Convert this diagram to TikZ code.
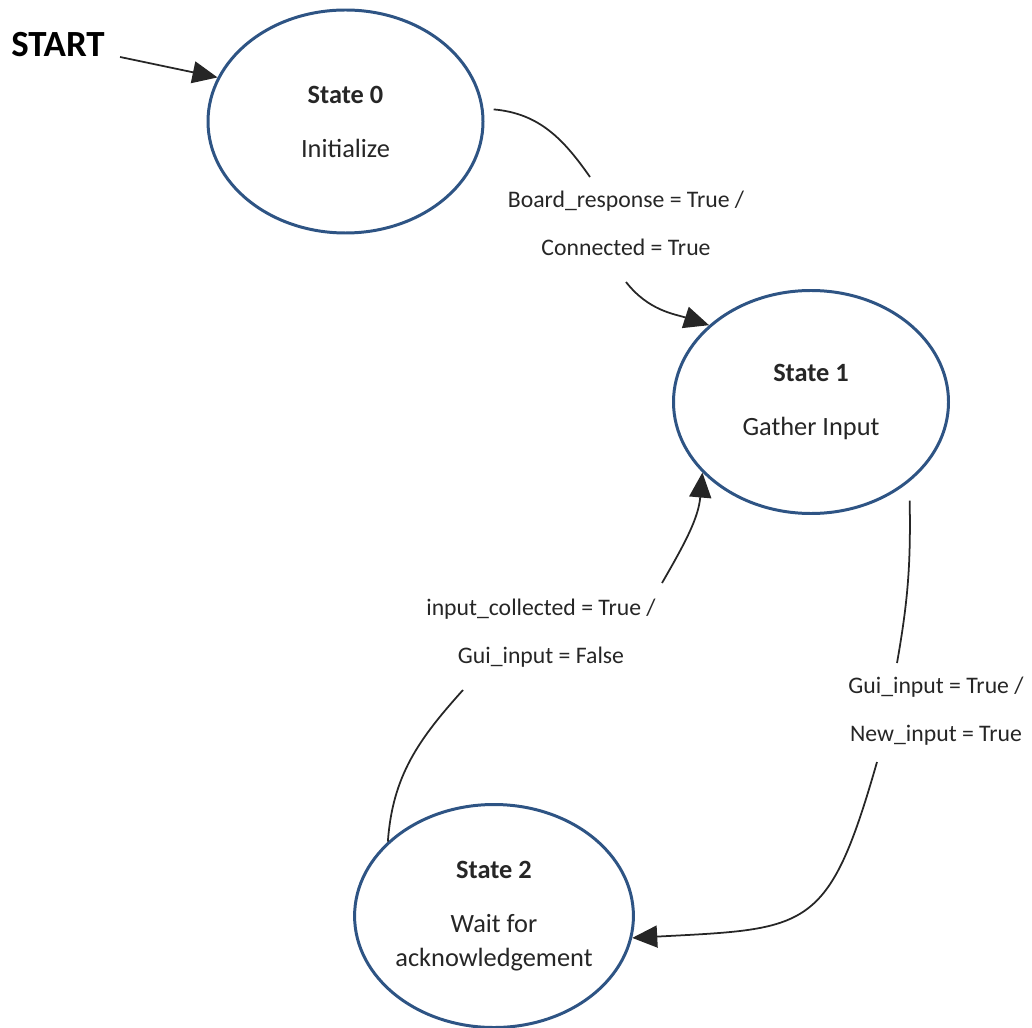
\documentclass[tikz,border=0pt]{standalone}
\usepackage{fontspec}
\setmainfont{Carlito}
\usepackage{xcolor}
\usepackage{tikz}
\usetikzlibrary{shapes.geometric, arrows.meta, calc}

\definecolor{stateblue}{RGB}{46,84,132}
\definecolor{inkgray}{RGB}{38,38,38}

\begin{document}
\begin{tikzpicture}[
    state/.style={
        ellipse, draw=stateblue, line width=1.7pt, fill=white,
        minimum width=5.5cm, minimum height=4.46cm, inner sep=0pt,
        align=center, text=inkgray, font=\fontsize{15}{19.3}\selectfont
    },
    trans/.style={align=center, inner sep=0pt, text=inkgray, font=\fontsize{13.5}{27.3}\selectfont},
    arrow/.style={-{Triangle[length=5mm, width=4.4mm]}, line width=1pt, draw=inkgray},
    link/.style={line width=1pt, draw=inkgray},
    entry/.style={font=\bfseries\fontsize{21}{25}\selectfont, text=black, inner sep=0pt}
]
\useasboundingbox (0,0) rectangle (20.64,-20.56);

% States
\node[state] (s0) at (6.91,-2.43) {\textbf{State 0}\\[11.4pt]Initialize};
\node[state] (s1) at (16.22,-8.04) {\textbf{State 1}\\[11.4pt]Gather Input};
\node[state] (s2) at (9.88,-18.32) {\textbf{State 2}\\[11.4pt]Wait for\\acknowledgement};

% Start
\node[entry] (start) at (1.16,-0.90) {START};
\draw[arrow] ([shift={(0.3,-0.24)}]start.east) -- (s0.161);

% State 0 -> State 1
\node[trans] (lbl01) at (12.52,-4.46) {Board\_response = True /\\Connected = True};
\draw[link] ([xshift=0.2cm]s0.5) to[out=-5, in=125] ([shift={(-0.72,0.92)}]lbl01.center);
\draw[arrow] ([shift={(0,-1.18)}]lbl01.center) to[out=-52, in=162] (s1.143);

% State 1 -> State 2
\node[trans] (lbl12) at (18.72,-14.23) {Gui\_input = True /\\New\_input = True};
\draw[link] ([shift={(0.22,-0.22)}]s1.-45) to[out=-89, in=80] ([shift={(-0.78,0.97)}]lbl12.center);
\draw[arrow] ([shift={(-1.18,-1.01)}]lbl12.center) to[out=-106, in=3, looseness=1.5] (s2.-9);

% State 2 -> State 1
\node[trans] (lbl21) at (10.82,-12.66) {input\_collected = True /\\Gui\_input = False};
\draw[link] (s2.145) to[out=86, in=-132] ([shift={(-1.56,-1.14)}]lbl21.center);
\draw[arrow] ([shift={(2.42,1.00)}]lbl21.center) to[out=60, in=-95] (s1.213);

\end{tikzpicture}
\end{document}
